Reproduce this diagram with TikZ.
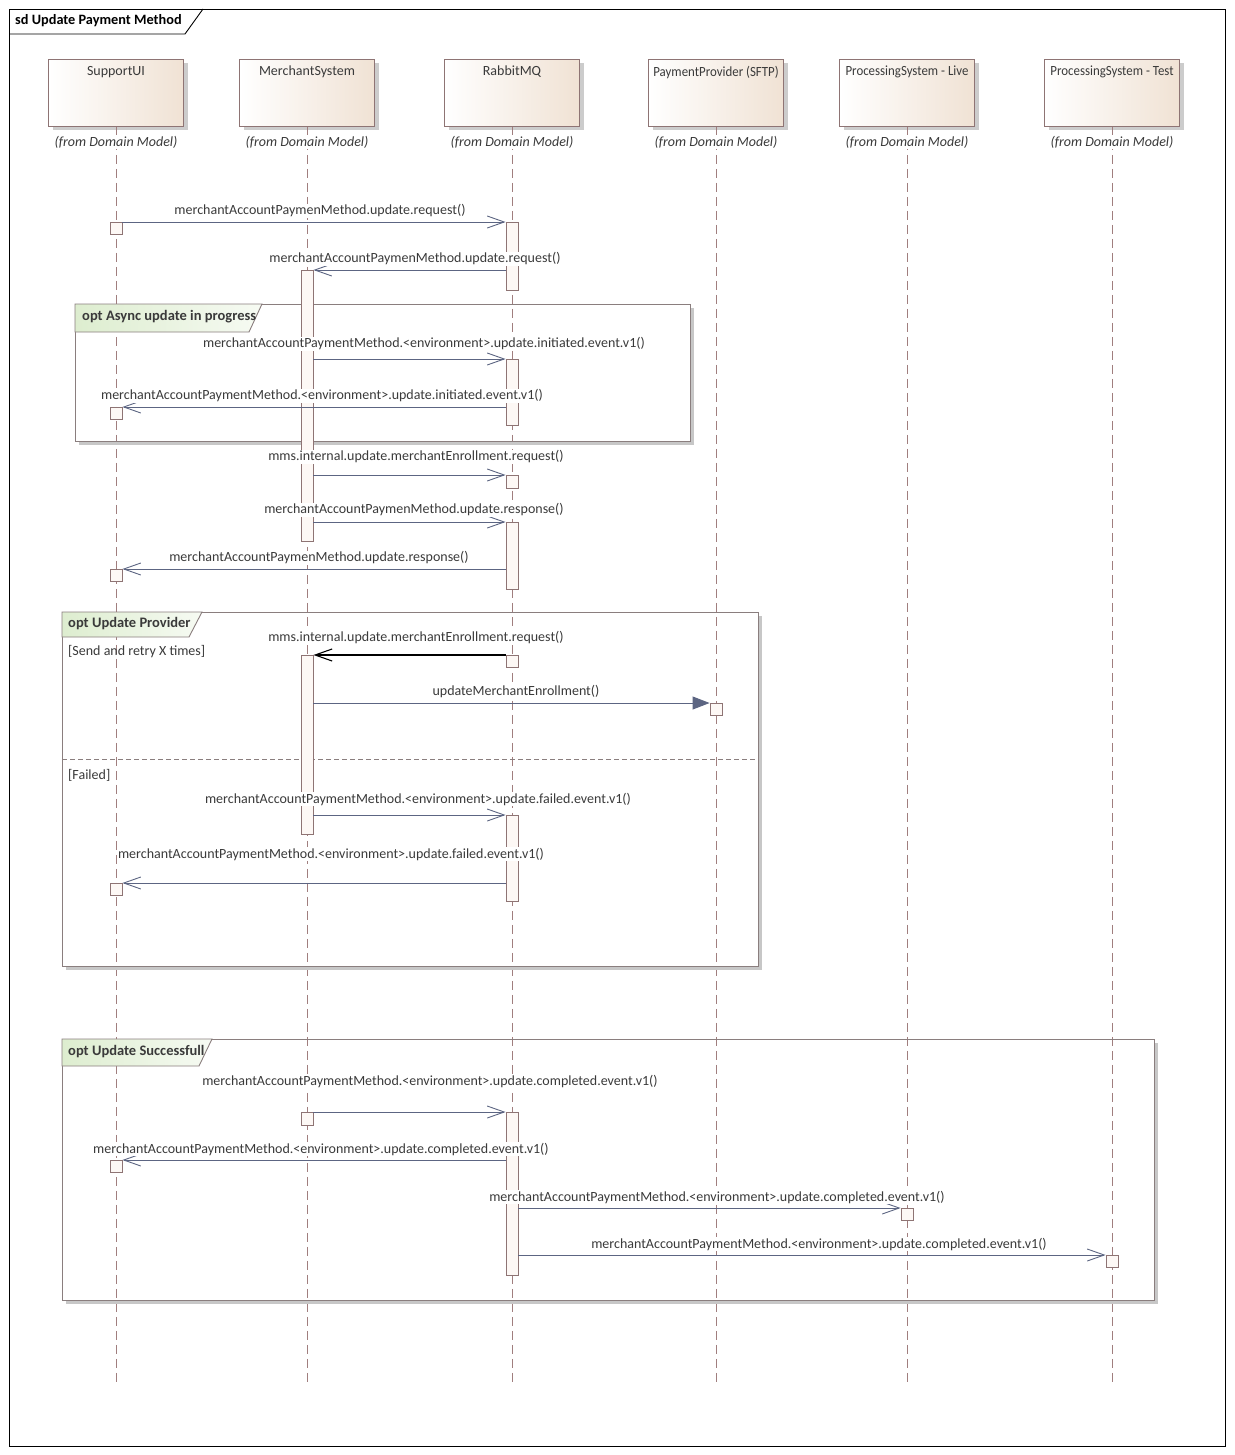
\documentclass[tikz,border=0pt]{standalone}
\usepackage{fontspec}
\setmainfont{Carlito}
\newfontfamily\condf[FakeStretch=0.92]{Carlito}
\usetikzlibrary{arrows.meta,shadows}
\definecolor{lineC}{HTML}{A07E7E}
\definecolor{arrC}{HTML}{5C6582}
\definecolor{boxB}{HTML}{8E7474}
\definecolor{headR}{HTML}{F0E2D4}
\definecolor{actF}{HTML}{FDF8F5}
\definecolor{tabG}{HTML}{DDEDCF}
\definecolor{fragB}{HTML}{8A7E7E}
\definecolor{txt}{HTML}{3A3A3A}
\newcommand\fsM{\fontsize{14}{16}\selectfont}
\newcommand\fsB{\fontsize{14.5}{17}\selectfont}
\newcommand\fsT{\fontsize{14.3}{17}\selectfont}
\begin{document}
\begin{tikzpicture}[x=1pt,y=-1pt,
  head/.style={draw=boxB, line width=0.9pt, left color=white, right color=headR,
    minimum width=135pt, minimum height=67pt, anchor=north, inner sep=0pt,
    drop shadow={shadow xshift=4pt, shadow yshift=-4pt, fill=black!20, opacity=1}},
  hname/.style={anchor=north, text=txt, font=\fsM, inner sep=0pt},
  hnamec/.style={anchor=north, text=txt, font=\fsM\condf, inner sep=0pt},
  hfrom/.style={anchor=center, text=txt, font=\fsM\itshape, inner sep=1pt},
  lifel/.style={draw=lineC, line width=0.9pt, dash pattern=on 9pt off 5pt},
  act/.style={draw=boxB, fill=actF, minimum width=12pt, inner sep=0pt, anchor=north, line width=0.9pt},
  msg/.style={draw=arrC, line width=0.9pt, -{Straight Barb[length=17pt,width=12pt,line width=0.9pt]}},
  msgk/.style={draw=black, line width=1.1pt, -{Straight Barb[length=17pt,width=12pt,line width=1.1pt]}},
  syncm/.style={draw=arrC, line width=0.9pt, -{Triangle[length=17pt,width=13pt]}},
  lbl/.style={text=txt, font=\fsM, inner sep=1pt, fill=white},
  frag/.style={draw=fragB, line width=0.9pt},
  fshadow/.style={draw=black!22, line width=3pt},
  tab/.style={draw=fragB, line width=0.9pt, left color=tabG, right color=tabG!25},
  tabtxt/.style={anchor=west, text=txt, font=\fsB\bfseries, inner sep=0pt},
  guard/.style={anchor=west, text=txt, font=\fsM, inner sep=0pt}
]
\path[fill=white] (0,0) rectangle (1234,1455);
\useasboundingbox (0,0) rectangle (1234,1455);

% outer frame
\draw[black, line width=0.9pt] (9,9) rectangle (1225,1446);
\draw[black, line width=0.9pt] (9,34) -- (185,34) -- (203,9);
\node[anchor=west, font=\fsT\bfseries, inner sep=0pt] (title) at (15,21) {sd Update Payment Method};

% lifeline heads
\node[head] (hS) at (116,59) {};
\node[head] (hM) at (307,59) {};
\node[head] (hR) at (512,59) {};
\node[head] (hP) at (716,59) {};
\node[head] (hL) at (907,59) {};
\node[head] (hT) at (1112,59) {};
\node[hname] at (116,66) {SupportUI};
\node[hname] at (307,66) {MerchantSystem};
\node[hname] at (512,66) {RabbitMQ};
\node[hnamec] at (716,66) {PaymentProvider (SFTP)};
\node[hnamec] at (907,66) {ProcessingSystem - Live};
\node[hnamec] at (1112,66) {ProcessingSystem - Test};

% lifelines
\coordinate (eS) at (116,1383);
\coordinate (eM) at (307,1383);
\coordinate (eR) at (512,1383);
\coordinate (eP) at (716,1383);
\coordinate (eL) at (907,1383);
\coordinate (eT) at (1112,1383);
\foreach \h/\e in {hS/eS,hM/eM,hR/eR,hP/eP,hL/eL,hT/eT}{
  \draw[lifel] (\h.south) -- (\e);
}
\foreach \x in {116,307,512,716,907,1112}{
  \node[hfrom, fill=white] at (\x,142) {(from Domain Model)};
}

% fragments
% Async update in progress
\draw[fshadow] (692,308) -- (692,443) -- (79,443);
\draw[frag] (75,304) rectangle (690,441);
\path[tab] (75,304) -- (262,304) -- (249,332) -- (75,332) -- cycle;
\node[tabtxt] at (82,317) {opt Async update in progress};

% Update Provider
\draw[fshadow] (760,616) -- (760,968) -- (66,968);
\draw[frag] (62,612) rectangle (758,966);
\path[tab] (62,612) -- (202,612) -- (189,637) -- (62,637) -- cycle;
\node[tabtxt] at (68,624) {opt Update Provider};
\node[guard] at (68,652) {[Send and retry X times]};
\draw[draw=fragB, line width=0.8pt, dash pattern=on 5pt off 3pt] (62,759) -- (758,759);
\node[guard] at (68,775) {[Failed]};

% Update Successfull
\draw[fshadow] (1156,1043) -- (1156,1302) -- (66,1302);
\draw[frag] (62,1039) rectangle (1154,1300);
\path[tab] (62,1039) -- (212,1039) -- (199,1066) -- (62,1066) -- cycle;
\node[tabtxt] at (68,1052) {opt Update Successfull};

% activations
\node[act, minimum height=12pt] (s1) at (116,222) {};
\node[act, minimum height=68pt] (r1) at (512,222) {};
\node[act, minimum height=271pt] (m1) at (307,270) {};
\node[act, minimum height=66pt] (r2) at (512,359) {};
\node[act, minimum height=12pt] (s2) at (116,407) {};
\node[act, minimum height=13pt] (r3) at (512,475) {};
\node[act, minimum height=67pt] (r4) at (512,522) {};
\node[act, minimum height=12pt] (s3) at (116,569) {};
\node[act, minimum height=12pt] (r5) at (512,655) {};
\node[act, minimum height=179pt] (m2) at (307,655) {};
\node[act, minimum height=12pt] (p1) at (716,703) {};
\node[act, minimum height=86pt] (r6) at (512,815) {};
\node[act, minimum height=12pt] (s4) at (116,883) {};
\node[act, minimum height=13pt] (m3) at (307,1112) {};
\node[act, minimum height=163pt] (r7) at (512,1112) {};
\node[act, minimum height=12pt] (s5) at (116,1160) {};
\node[act, minimum height=12pt] (l1) at (907,1208) {};
\node[act, minimum height=12pt] (t1) at (1112,1255) {};

% messages
\draw[msg] (s1.north east) -- (r1.north west);
\node[lbl] at (320,211) {merchantAccountPaymenMethod.update.request()};

\draw[msg] (r1.west |- m1.north) -- (m1.north east);
\node[lbl] at (415,259) {merchantAccountPaymenMethod.update.request()};

\draw[msg] (m1.east |- r2.north) -- (r2.north west);
\node[lbl] at (424,344) {merchantAccountPaymentMethod.<environment>.update.initiated.event.v1()};

\draw[msg] (r2.west |- s2.north) -- (s2.north east);
\node[lbl] at (322,396) {merchantAccountPaymentMethod.<environment>.update.initiated.event.v1()};

\draw[msg] (m1.east |- r3.north) -- (r3.north west);
\node[lbl] at (416,457) {mms.internal.update.merchantEnrollment.request()};

\draw[msg] (m1.east |- r4.north) -- (r4.north west);
\node[lbl] at (414,510) {merchantAccountPaymenMethod.update.response()};

\draw[msg] (r4.west |- s3.north) -- (s3.north east);
\node[lbl] at (319,558) {merchantAccountPaymenMethod.update.response()};

\draw[msgk] (r5.north west) -- (m2.north east);
\node[lbl] at (416,638) {mms.internal.update.merchantEnrollment.request()};

\draw[syncm] (m2.east |- p1.north) -- (p1.north west);
\node[lbl] at (516,692) {updateMerchantEnrollment()};

\draw[msg] (m2.east |- r6.north) -- (r6.north west);
\node[lbl] at (418,799) {merchantAccountPaymentMethod.<environment>.update.failed.event.v1()};

\draw[msg] (r6.west |- s4.north) -- (s4.north east);
\node[lbl] at (331,854) {merchantAccountPaymentMethod.<environment>.update.failed.event.v1()};

\draw[msg] (m3.north east) -- (r7.north west);
\node[lbl] at (430,1081) {merchantAccountPaymentMethod.<environment>.update.completed.event.v1()};

\draw[msg] (r7.west |- s5.north) -- (s5.north east);
\node[lbl] at (321,1149) {merchantAccountPaymentMethod.<environment>.update.completed.event.v1()};

\draw[msg] (r7.east |- l1.north) -- (l1.north west);
\node[lbl] at (717,1197) {merchantAccountPaymentMethod.<environment>.update.completed.event.v1()};

\draw[msg] (r7.east |- t1.north) -- (t1.north west);
\node[lbl] at (819,1244) {merchantAccountPaymentMethod.<environment>.update.completed.event.v1()};
\end{tikzpicture}
\end{document}
